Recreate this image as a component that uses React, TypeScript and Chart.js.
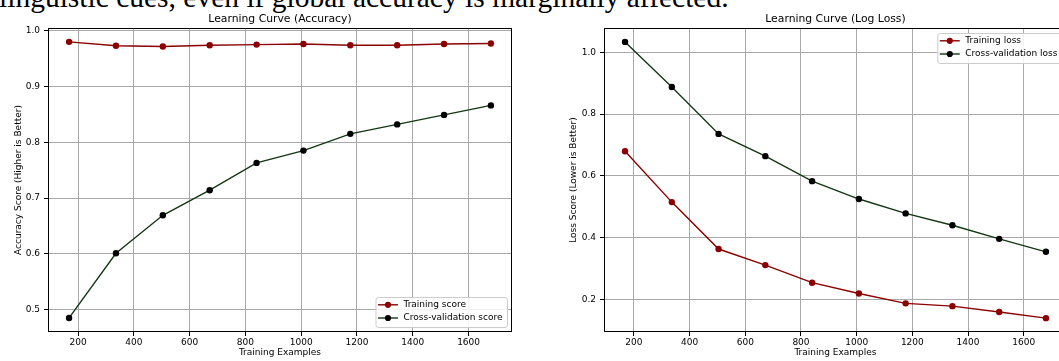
import React, { useEffect, useRef } from "react";
import { Chart, registerables } from "chart.js";

Chart.register(...registerables);

const trainSizes = [168, 336, 504, 672, 840, 1008, 1176, 1344, 1512, 1680];
const accTrain = [0.98, 0.973, 0.9715, 0.974, 0.975, 0.976, 0.974, 0.974, 0.976, 0.977];
const accCV = [0.485, 0.601, 0.669, 0.714, 0.763, 0.785, 0.815, 0.832, 0.849, 0.866];
const lossTrain = [0.68, 0.515, 0.363, 0.311, 0.254, 0.219, 0.187, 0.178, 0.159, 0.139];
const lossCV = [1.034, 0.888, 0.736, 0.664, 0.583, 0.525, 0.4785, 0.44, 0.396, 0.354];
const xTicks = [200, 400, 600, 800, 1000, 1200, 1400, 1600];
const accTicks = [0.5, 0.6, 0.7, 0.8, 0.9, 1.0];
const lossTicks = [0.2, 0.4, 0.6, 0.8, 1.0];
const accLabels = ["Training score", "Cross-validation score"];
const lossLabels = ["Training loss", "Cross-validation loss"];

const FONT = "DejaVu Sans";
const SMALL = 9;
const TITLE_SIZE = 10.8;
const RED = "#8b0000";
const GREEN_LINE = "#123812";
const BLACK = "#000000";
const GRID = "#a9a9a9";

type Cfg = {
  title: string;
  yTitle: string;
  yTicks: number[];
  yMin: number;
  yMax: number;
  train: number[];
  cv: number[];
  labels: string[];
  yAxisWidth: number;
  yTitlePad: number;
  padRight: number;
  legendPos: "lower" | "upper";
};

function makeChart(canvas: HTMLCanvasElement, c: Cfg) {
  const overlay = {
    id: "overlay",
    afterDatasetsDraw(chart: any) {
      const ctx = chart.ctx;
      const a = chart.chartArea;
      ctx.save();
      ctx.strokeStyle = "#000";
      ctx.lineWidth = 1;
      ctx.strokeRect(Math.round(a.left) + 0.5, Math.round(a.top) + 0.5, Math.round(a.right - a.left) - 1, Math.round(a.bottom - a.top) - 1);
      ctx.fillStyle = "#000";
      ctx.font = `${TITLE_SIZE}px "${FONT}"`;
      ctx.textAlign = "center";
      ctx.textBaseline = "middle";
      ctx.fillText(c.title, (a.left + a.right) / 2, 19);
      ctx.font = `${SMALL}px "${FONT}"`;
      const tw = Math.max(...c.labels.map((l) => ctx.measureText(l).width));
      const boxW = 2.5 + 20 + 5.5 + tw + 4.5;
      const boxH = 30;
      const right = a.right - 5;
      const left = right - boxW;
      const top = c.legendPos === "lower" ? a.bottom - 5 - boxH : a.top + 5;
      ctx.beginPath();
      ctx.roundRect(left + 0.5, top + 0.5, boxW, boxH, 2.5);
      ctx.fillStyle = "rgba(255,255,255,0.85)";
      ctx.fill();
      ctx.strokeStyle = "#cccccc";
      ctx.lineWidth = 1;
      ctx.stroke();
      const rows = [top + 7.8, top + 21];
      const lineCols = [RED, GREEN_LINE];
      const dotCols = [RED, BLACK];
      rows.forEach((y, i) => {
        const x0 = left + 2.5;
        ctx.beginPath();
        ctx.moveTo(x0, y);
        ctx.lineTo(x0 + 20, y);
        ctx.strokeStyle = lineCols[i];
        ctx.lineWidth = 1.4;
        ctx.stroke();
        ctx.beginPath();
        ctx.arc(x0 + 10, y, 3.1, 0, Math.PI * 2);
        ctx.fillStyle = dotCols[i];
        ctx.fill();
        ctx.fillStyle = "#000";
        ctx.textAlign = "left";
        ctx.textBaseline = "middle";
        ctx.fillText(c.labels[i], x0 + 25.5, y);
      });
      ctx.restore();
    },
  };

  const tickFont = { family: FONT, size: SMALL };
  return new Chart(canvas, {
    type: "line",
    data: {
      datasets: [
        {
          label: c.labels[0],
          data: trainSizes.map((x, i) => ({ x, y: c.train[i] })),
          borderColor: RED,
          backgroundColor: RED,
          pointBackgroundColor: RED,
          pointBorderColor: RED,
          pointRadius: 3.2,
          pointBorderWidth: 0,
          borderWidth: 1.4,
          tension: 0,
        },
        {
          label: c.labels[1],
          data: trainSizes.map((x, i) => ({ x, y: c.cv[i] })),
          borderColor: GREEN_LINE,
          backgroundColor: BLACK,
          pointBackgroundColor: BLACK,
          pointBorderColor: BLACK,
          pointRadius: 3.2,
          pointBorderWidth: 0,
          borderWidth: 1.4,
          tension: 0,
        },
      ],
    },
    options: {
      responsive: false,
      animation: false,
      devicePixelRatio: 1,
      layout: { padding: { top: 28, left: 0, right: c.padRight, bottom: 0 } },
      plugins: {
        legend: { display: false },
        title: { display: false },
        tooltip: { enabled: false },
      },
      scales: {
        x: {
          type: "linear",
          min: 92.4,
          max: 1755.6,
          afterBuildTicks: (s: any) => {
            s.ticks = xTicks.map((v) => ({ value: v }));
          },
          afterFit: (s: any) => {
            s.height = 29;
          },
          grid: { color: GRID, lineWidth: 1, tickColor: "#000", tickLength: 4, drawTicks: true },
          border: { display: false },
          ticks: { font: tickFont, color: "#000", padding: 1, maxRotation: 0, callback: (v: any) => String(v) },
          title: { display: true, text: "Training Examples", font: tickFont, color: "#000", padding: { top: 0, bottom: 2.6 } },
        },
        y: {
          type: "linear",
          min: c.yMin,
          max: c.yMax,
          afterBuildTicks: (s: any) => {
            s.ticks = c.yTicks.map((v) => ({ value: v }));
          },
          afterFit: (s: any) => {
            s.width = c.yAxisWidth;
          },
          grid: { color: GRID, lineWidth: 1, tickColor: "#000", tickLength: 4, drawTicks: true },
          border: { display: false },
          ticks: { font: tickFont, color: "#000", padding: 4, callback: (v: any) => Number(v).toFixed(1) },
          title: { display: true, text: c.yTitle, font: tickFont, color: "#000", padding: { top: c.yTitlePad, bottom: 0 } },
        },
      },
    },
    plugins: [overlay],
  } as any);
}

function ChartCanvas(props: { cfg: Cfg; width: number; left: number }) {
  const ref = useRef<HTMLCanvasElement | null>(null);
  useEffect(() => {
    if (!ref.current) return;
    const ch = makeChart(ref.current, props.cfg);
    return () => ch.destroy();
  }, []);
  return (
    <canvas
      ref={ref}
      width={props.width}
      height={361}
      style={{ position: "absolute", left: props.left, top: 0, width: props.width, height: 361 }}
    />
  );
}

export default function App() {
  const accCfg: Cfg = {
    title: "Learning Curve (Accuracy)",
    yTitle: "Accuracy Score (Higher is Better)",
    yTicks: accTicks,
    yMin: 0.4598,
    yMax: 1.0048,
    train: accTrain,
    cv: accCV,
    labels: accLabels,
    yAxisWidth: 48,
    yTitlePad: 13.6,
    padRight: 18,
    legendPos: "lower",
  };
  const lossCfg: Cfg = {
    title: "Learning Curve (Log Loss)",
    yTitle: "Loss Score (Lower is Better)",
    yTicks: lossTicks,
    yMin: 0.0942,
    yMax: 1.0791,
    train: lossTrain,
    cv: lossCV,
    labels: lossLabels,
    yAxisWidth: 74,
    yTitlePad: 37.9,
    padRight: 23,
    legendPos: "upper",
  };
  return (
    <div style={{ position: "absolute", left: 0, top: 0, width: 1059, height: 361, overflow: "hidden", background: "#fff" }}>
      <div
        style={{
          position: "absolute",
          left: -1,
          top: -17,
          fontFamily: '"Liberation Serif", serif',
          fontSize: 29.5,
          lineHeight: "29.5px",
          whiteSpace: "nowrap",
          color: "#000",
        }}
      >
        linguistic cues, even if global accuracy is marginally affected.
      </div>
      <ChartCanvas cfg={accCfg} width={530} left={0} />
      <ChartCanvas cfg={lossCfg} width={560} left={530} />
    </div>
  );
}
